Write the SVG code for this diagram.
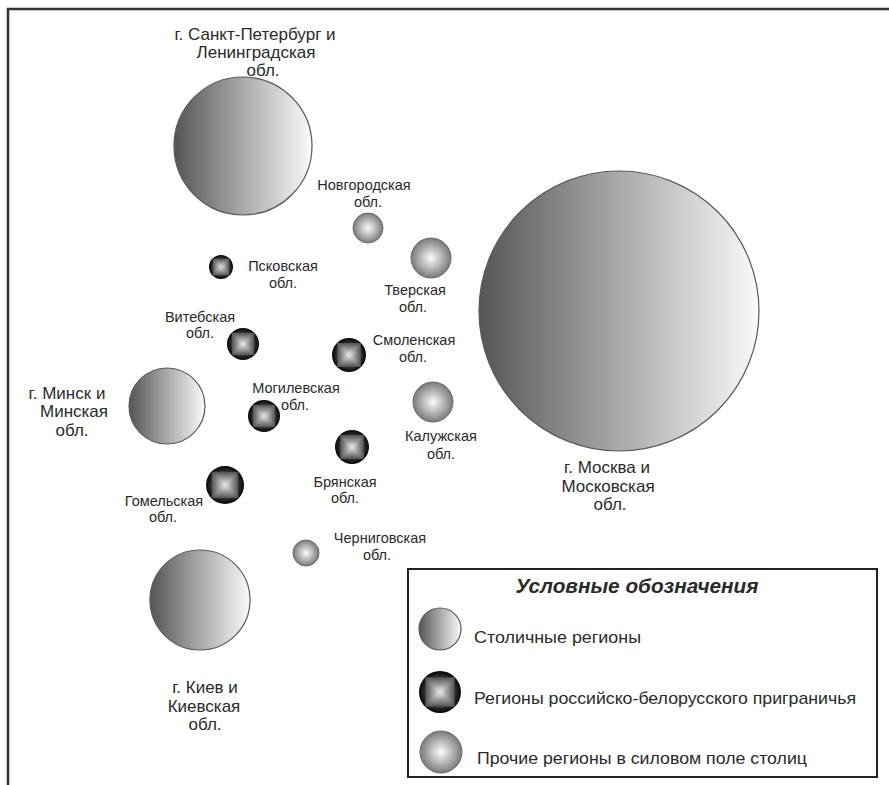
<svg xmlns="http://www.w3.org/2000/svg" xmlns:xlink="http://www.w3.org/1999/xlink" width="889" height="785" viewBox="0 0 889 785">
<defs>
<linearGradient id="gCap" x1="0" y1="0" x2="1" y2="0">
<stop offset="0" stop-color="#555555"/>
<stop offset="0.5" stop-color="#a9a9a9"/>
<stop offset="1" stop-color="#fafafa"/>
</linearGradient>
<radialGradient id="gOth" cx="0.5" cy="0.5" r="0.5">
<stop offset="0" stop-color="#fbfbfb"/>
<stop offset="1" stop-color="#7a7a7a"/>
</radialGradient>
<linearGradient id="gT" x1="0" y1="0" x2="0" y2="1"><stop offset="0" stop-color="#505050"/><stop offset="0.6" stop-color="#acacac"/><stop offset="1" stop-color="#f2f2f2"/></linearGradient>
<linearGradient id="gB" x1="0" y1="1" x2="0" y2="0"><stop offset="0" stop-color="#505050"/><stop offset="0.6" stop-color="#acacac"/><stop offset="1" stop-color="#f2f2f2"/></linearGradient>
<linearGradient id="gL" x1="0" y1="0" x2="1" y2="0"><stop offset="0" stop-color="#505050"/><stop offset="0.6" stop-color="#acacac"/><stop offset="1" stop-color="#f2f2f2"/></linearGradient>
<linearGradient id="gR" x1="1" y1="0" x2="0" y2="0"><stop offset="0" stop-color="#505050"/><stop offset="0.6" stop-color="#acacac"/><stop offset="1" stop-color="#f2f2f2"/></linearGradient>
<radialGradient id="gRing" cx="0.5" cy="0.5" r="0.5">
<stop offset="0.65" stop-color="#3a3a3a"/>
<stop offset="1" stop-color="#050505"/>
</radialGradient>
<g id="bx">
<circle cx="0" cy="0" r="1" fill="url(#gRing)"/>
<polygon points="-0.7,-0.7 0.7,-0.7 0,0.01" fill="url(#gT)"/>
<polygon points="-0.7,0.7 0.7,0.7 0,-0.01" fill="url(#gB)"/>
<polygon points="-0.7,-0.7 -0.7,0.7 0.01,0" fill="url(#gL)"/>
<polygon points="0.7,-0.7 0.7,0.7 -0.01,0" fill="url(#gR)"/>
</g>
</defs>
<style>
.cap{fill:url(#gCap);stroke:#5a5a5a;stroke-width:1.2}
.oth{fill:url(#gOth);stroke:#6a6a6a;stroke-width:1}
text{font-family:"Liberation Sans",Arial,sans-serif;fill:#2a2a2a}
.s{font-size:14.5px;text-anchor:middle}
.b{font-size:17px;text-anchor:middle}
.lg{font-size:17px}
.ttl{font-size:20px;font-weight:bold;font-style:italic;text-anchor:middle}
.frame{fill:none;stroke:#333;stroke-width:2.5}
.box{fill:#fff;stroke:#222;stroke-width:2}
</style>
<rect width="889" height="785" fill="#ffffff"/>
<path class="frame" d="M8,790 V9 H895"/>
<g id="connectors"/>

<g id="spb">
<circle class="cap" cx="243" cy="146" r="69"/>
<text class="b" x="255" y="40">г. Санкт-Петербург и</text>
<text class="b" x="256" y="58">Ленинградская</text>
<text class="b" x="263" y="76">обл.</text>
</g>
<g id="moscow">
<circle class="cap" cx="619" cy="311" r="140"/>
<text class="b" x="607" y="473">г. Москва и</text>
<text class="b" x="608" y="492">Московская</text>
<text class="b" x="610" y="510">обл.</text>
</g>
<g id="minsk">
<circle class="cap" cx="167" cy="406" r="38"/>
<text class="b" x="67" y="399">г. Минск и</text>
<text class="b" x="74" y="417">Минская</text>
<text class="b" x="72" y="436">обл.</text>
</g>
<g id="kiev">
<circle class="cap" cx="200" cy="600" r="50"/>
<text class="b" x="205" y="693">г. Киев и</text>
<text class="b" x="204" y="712">Киевская</text>
<text class="b" x="205" y="730">обл.</text>
</g>

<g id="novgorod">
<circle class="oth" cx="368" cy="228" r="15"/>
<text class="s" x="364" y="190">Новгородская</text>
<text class="s" x="368" y="207">обл.</text>
</g>
<g id="tver">
<circle class="oth" cx="431" cy="258" r="20"/>
<text class="s" x="415" y="295">Тверская</text>
<text class="s" x="413" y="312">обл.</text>
</g>
<g id="kaluga">
<circle class="oth" cx="433" cy="402" r="20"/>
<text class="s" x="441" y="441">Калужская</text>
<text class="s" x="441" y="459">обл.</text>
</g>
<g id="chernigov">
<circle class="oth" cx="306" cy="553" r="13"/>
<text class="s" x="380" y="543">Черниговская</text>
<text class="s" x="377" y="560">обл.</text>
</g>

<g id="pskov">
<use xlink:href="#bx" href="#bx" transform="translate(221,267) scale(12)"/>
<text class="s" x="283" y="271">Псковская</text>
<text class="s" x="283" y="288">обл.</text>
</g>
<g id="vitebsk">
<use xlink:href="#bx" href="#bx" transform="translate(243,344) scale(16)"/>
<text class="s" x="200" y="322">Витебская</text>
<text class="s" x="200" y="338">обл.</text>
</g>
<g id="smolensk">
<use xlink:href="#bx" href="#bx" transform="translate(349,355) scale(17)"/>
<text class="s" x="414" y="345">Смоленская</text>
<text class="s" x="413" y="362">обл.</text>
</g>
<g id="mogilev">
<use xlink:href="#bx" href="#bx" transform="translate(264,416) scale(16)"/>
<text class="s" x="296" y="393">Могилевская</text>
<text class="s" x="295" y="410">обл.</text>
</g>
<g id="bryansk">
<use xlink:href="#bx" href="#bx" transform="translate(352,447) scale(17)"/>
<text class="s" x="345" y="487">Брянская</text>
<text class="s" x="345" y="503">обл.</text>
</g>
<g id="gomel">
<use xlink:href="#bx" href="#bx" transform="translate(225,485) scale(19)"/>
<text class="s" x="164" y="506">Гомельская</text>
<text class="s" x="163" y="522">обл.</text>
</g>

<g id="legend">
<rect class="box" x="408" y="569" width="469" height="208"/>
<text class="ttl" x="637" y="593" textLength="243" lengthAdjust="spacingAndGlyphs">Условные обозначения</text>
<circle class="cap" cx="440" cy="629" r="21"/>
<text class="lg" x="474" y="643" textLength="167" lengthAdjust="spacingAndGlyphs">Столичные регионы</text>
<use xlink:href="#bx" href="#bx" transform="translate(440,692) scale(21)"/>
<text class="lg" x="474" y="704" textLength="382" lengthAdjust="spacingAndGlyphs">Регионы российско-белорусского приграничья</text>
<circle class="oth" cx="441" cy="752" r="21"/>
<text class="lg" x="477" y="764" textLength="330" lengthAdjust="spacingAndGlyphs">Прочие регионы в силовом поле столиц</text>
</g>
</svg>
